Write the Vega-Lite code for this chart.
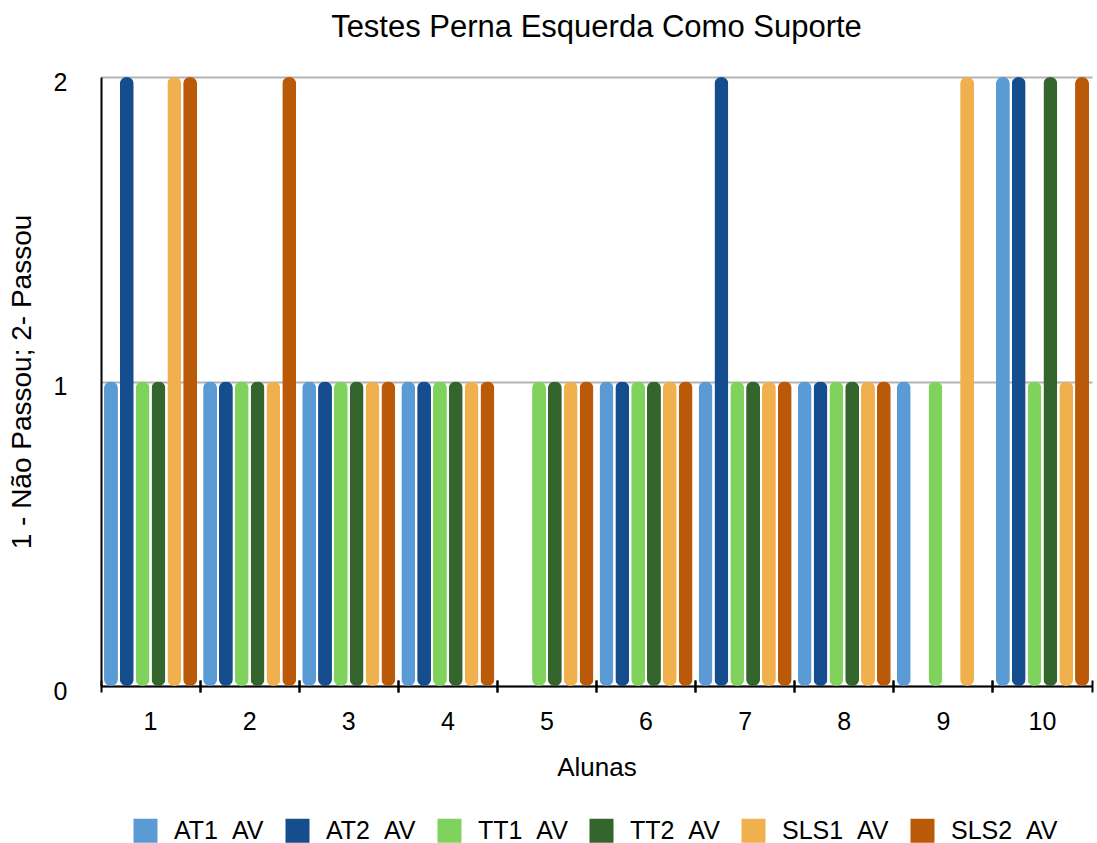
{
  "$schema": "https://vega.github.io/schema/vega-lite/v6.json",
  "width": 991,
  "height": 609,
  "autosize": {"type": "none"},
  "padding": {"left": 101, "top": 77, "right": 5, "bottom": 157},
  "background": "white",
  "config": {
    "font": "Liberation Sans",
    "view": {"stroke": null},
    "axis": {"labelColor": "black", "titleColor": "black", "labelFont": "Liberation Sans", "titleFont": "Liberation Sans", "titleFontWeight": "normal"}
  },
  "title": {
    "text": "Testes Perna Esquerda Como Suporte",
    "fontSize": 31,
    "fontWeight": "normal",
    "color": "black",
    "anchor": "middle",
    "baseline": "alphabetic",
    "offset": 2
  },
  "data": {
    "values": [
      {"aluna": 1, "serie": "AT1\u00a0\u00a0AV", "valor": 1},
      {"aluna": 1, "serie": "AT2\u00a0\u00a0AV", "valor": 2},
      {"aluna": 1, "serie": "TT1\u00a0\u00a0AV", "valor": 1},
      {"aluna": 1, "serie": "TT2\u00a0\u00a0AV", "valor": 1},
      {"aluna": 1, "serie": "SLS1\u00a0\u00a0AV", "valor": 2},
      {"aluna": 1, "serie": "SLS2\u00a0\u00a0AV", "valor": 2},
      {"aluna": 2, "serie": "AT1\u00a0\u00a0AV", "valor": 1},
      {"aluna": 2, "serie": "AT2\u00a0\u00a0AV", "valor": 1},
      {"aluna": 2, "serie": "TT1\u00a0\u00a0AV", "valor": 1},
      {"aluna": 2, "serie": "TT2\u00a0\u00a0AV", "valor": 1},
      {"aluna": 2, "serie": "SLS1\u00a0\u00a0AV", "valor": 1},
      {"aluna": 2, "serie": "SLS2\u00a0\u00a0AV", "valor": 2},
      {"aluna": 3, "serie": "AT1\u00a0\u00a0AV", "valor": 1},
      {"aluna": 3, "serie": "AT2\u00a0\u00a0AV", "valor": 1},
      {"aluna": 3, "serie": "TT1\u00a0\u00a0AV", "valor": 1},
      {"aluna": 3, "serie": "TT2\u00a0\u00a0AV", "valor": 1},
      {"aluna": 3, "serie": "SLS1\u00a0\u00a0AV", "valor": 1},
      {"aluna": 3, "serie": "SLS2\u00a0\u00a0AV", "valor": 1},
      {"aluna": 4, "serie": "AT1\u00a0\u00a0AV", "valor": 1},
      {"aluna": 4, "serie": "AT2\u00a0\u00a0AV", "valor": 1},
      {"aluna": 4, "serie": "TT1\u00a0\u00a0AV", "valor": 1},
      {"aluna": 4, "serie": "TT2\u00a0\u00a0AV", "valor": 1},
      {"aluna": 4, "serie": "SLS1\u00a0\u00a0AV", "valor": 1},
      {"aluna": 4, "serie": "SLS2\u00a0\u00a0AV", "valor": 1},
      {"aluna": 5, "serie": "TT1\u00a0\u00a0AV", "valor": 1},
      {"aluna": 5, "serie": "TT2\u00a0\u00a0AV", "valor": 1},
      {"aluna": 5, "serie": "SLS1\u00a0\u00a0AV", "valor": 1},
      {"aluna": 5, "serie": "SLS2\u00a0\u00a0AV", "valor": 1},
      {"aluna": 6, "serie": "AT1\u00a0\u00a0AV", "valor": 1},
      {"aluna": 6, "serie": "AT2\u00a0\u00a0AV", "valor": 1},
      {"aluna": 6, "serie": "TT1\u00a0\u00a0AV", "valor": 1},
      {"aluna": 6, "serie": "TT2\u00a0\u00a0AV", "valor": 1},
      {"aluna": 6, "serie": "SLS1\u00a0\u00a0AV", "valor": 1},
      {"aluna": 6, "serie": "SLS2\u00a0\u00a0AV", "valor": 1},
      {"aluna": 7, "serie": "AT1\u00a0\u00a0AV", "valor": 1},
      {"aluna": 7, "serie": "AT2\u00a0\u00a0AV", "valor": 2},
      {"aluna": 7, "serie": "TT1\u00a0\u00a0AV", "valor": 1},
      {"aluna": 7, "serie": "TT2\u00a0\u00a0AV", "valor": 1},
      {"aluna": 7, "serie": "SLS1\u00a0\u00a0AV", "valor": 1},
      {"aluna": 7, "serie": "SLS2\u00a0\u00a0AV", "valor": 1},
      {"aluna": 8, "serie": "AT1\u00a0\u00a0AV", "valor": 1},
      {"aluna": 8, "serie": "AT2\u00a0\u00a0AV", "valor": 1},
      {"aluna": 8, "serie": "TT1\u00a0\u00a0AV", "valor": 1},
      {"aluna": 8, "serie": "TT2\u00a0\u00a0AV", "valor": 1},
      {"aluna": 8, "serie": "SLS1\u00a0\u00a0AV", "valor": 1},
      {"aluna": 8, "serie": "SLS2\u00a0\u00a0AV", "valor": 1},
      {"aluna": 9, "serie": "AT1\u00a0\u00a0AV", "valor": 1},
      {"aluna": 9, "serie": "TT1\u00a0\u00a0AV", "valor": 1},
      {"aluna": 9, "serie": "SLS1\u00a0\u00a0AV", "valor": 2},
      {"aluna": 10, "serie": "AT1\u00a0\u00a0AV", "valor": 2},
      {"aluna": 10, "serie": "AT2\u00a0\u00a0AV", "valor": 2},
      {"aluna": 10, "serie": "TT1\u00a0\u00a0AV", "valor": 1},
      {"aluna": 10, "serie": "TT2\u00a0\u00a0AV", "valor": 2},
      {"aluna": 10, "serie": "SLS1\u00a0\u00a0AV", "valor": 1},
      {"aluna": 10, "serie": "SLS2\u00a0\u00a0AV", "valor": 2}
    ]
  },
  "resolve": {"axis": {"x": "independent"}},
  "layer": [
    {
      "mark": {"type": "bar", "cornerRadius": 7},
      "encoding": {
        "x": {
          "field": "aluna",
          "type": "ordinal",
          "scale": {"paddingInner": 0, "paddingOuter": 0},
          "axis": {
            "orient": "bottom",
            "title": "Alunas",
            "titleFontSize": 26,
            "titlePadding": 20,
            "labelFontSize": 25,
            "labelAngle": 0,
            "labelPadding": 23,
            "ticks": false,
            "domain": true,
            "domainColor": "black",
            "domainWidth": 2,
            "grid": false
          }
        },
        "xOffset": {
          "field": "serie",
          "type": "nominal",
          "scale": {"paddingInner": 0.12, "paddingOuter": 0.19},
          "sort": ["AT1\u00a0\u00a0AV", "AT2\u00a0\u00a0AV", "TT1\u00a0\u00a0AV", "TT2\u00a0\u00a0AV", "SLS1\u00a0\u00a0AV", "SLS2\u00a0\u00a0AV"]
        },
        "y": {
          "field": "valor",
          "type": "quantitative",
          "scale": {"domain": [0, 2], "nice": false},
          "axis": {
            "title": "1 - Não Passou; 2- Passou",
            "titleFontSize": 28,
            "titlePadding": 17,
            "tickCount": 2,
            "labelOverlap": false,
            "labelFontSize": 25,
            "labelPadding": 34,
            "labelOffset": 5,
            "ticks": false,
            "domain": true,
            "domainColor": "black",
            "domainWidth": 2,
            "grid": true,
            "gridColor": "#b3b3b3",
            "gridWidth": 2
          }
        },
        "color": {
          "field": "serie",
          "type": "nominal",
          "scale": {
            "domain": ["AT1\u00a0\u00a0AV", "AT2\u00a0\u00a0AV", "TT1\u00a0\u00a0AV", "TT2\u00a0\u00a0AV", "SLS1\u00a0\u00a0AV", "SLS2\u00a0\u00a0AV"],
            "range": ["#5b9bd5", "#154d8f", "#7fd35c", "#33652d", "#f0b04e", "#ba5a08"]
          },
          "legend": {
            "title": null,
            "orient": "none",
            "direction": "horizontal",
            "legendX": 32,
            "legendY": 741,
            "symbolType": "square",
            "symbolSize": 576,
            "symbolStrokeWidth": 0,
            "symbolOpacity": 1,
            "labelFontSize": 25,
            "labelColor": "black",
            "labelOffset": 16,
            "columnPadding": 21
          }
        }
      }
    },
    {
      "mark": {"type": "bar", "opacity": 0},
      "encoding": {
        "x": {
          "field": "aluna",
          "type": "ordinal",
          "scale": {"paddingInner": 0, "paddingOuter": 0},
          "axis": {
            "orient": "bottom",
            "title": null,
            "labels": false,
            "domain": false,
            "ticks": true,
            "tickColor": "black",
            "tickWidth": 2,
            "tickSize": 12,
            "offset": -6,
            "bandPosition": 0,
            "grid": false
          }
        }
      }
    },
    {
      "mark": {"type": "bar", "opacity": 0},
      "encoding": {
        "x": {
          "field": "aluna",
          "type": "ordinal",
          "scale": {"paddingInner": 0, "paddingOuter": 0},
          "axis": {
            "orient": "bottom",
            "title": null,
            "labels": false,
            "domain": false,
            "ticks": true,
            "tickColor": "black",
            "tickWidth": 2,
            "tickSize": 12,
            "offset": -6,
            "bandPosition": 1,
            "grid": false
          }
        }
      }
    }
  ]
}
